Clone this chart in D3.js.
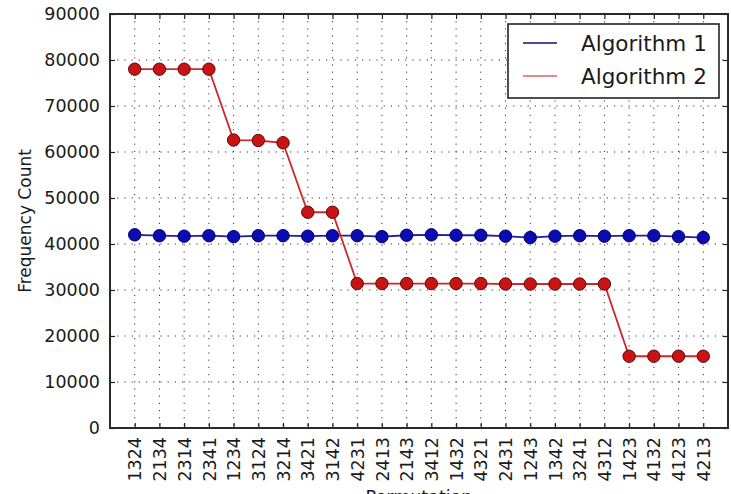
<!DOCTYPE html>
<html>
<head>
<meta charset="utf-8">
<script src="https://cdn.jsdelivr.net/npm/d3@7"></script>
<style>
  html, body { margin: 0; padding: 0; background: #fff; }
  svg { display: block; }
  text { font-family: "DejaVu Sans", sans-serif; fill: #1a1a1a; }
</style>
</head>
<body>
<svg id="chart" width="731" height="494"></svg>
<script>
// Permutations on the x axis
const categories = ["1324","2134","2314","2341","1234","3124","3214","3421","3142","4231",
  "2413","2143","3412","1432","4321","2431","1243","1342","3241","4312",
  "1423","4132","4123","4213"];

// Frequency counts per permutation
const algorithm1 = [42000, 41800, 41700, 41800, 41600, 41800, 41800, 41700, 41800, 41800,
  41600, 41900, 42000, 41900, 41900, 41700, 41400, 41700, 41800, 41700,
  41800, 41800, 41600, 41400];
const algorithm2 = [78000, 78000, 78000, 78000, 62600, 62500, 62000, 46900, 46900, 31400,
  31400, 31400, 31400, 31400, 31400, 31300, 31300, 31300, 31300, 31300,
  15600, 15600, 15600, 15600];

const yTicks = [0, 10000, 20000, 30000, 40000, 50000, 60000, 70000, 80000, 90000];
const seriesNames = ["Algorithm 1", "Algorithm 2"];

const svg = d3.select("#chart");
const plotLeft = 110, plotRight = 728, plotTop = 14, plotBottom = 428;

const x = d3.scalePoint().domain(categories).range([plotLeft, plotRight]).padding(1);
const y = d3.scaleLinear().domain([0, 90000]).range([plotBottom, plotTop]);

// dotted grid
const grid = svg.append("g").attr("stroke", "#333").attr("stroke-width", 1)
  .attr("stroke-dasharray", "1.2,6");
grid.selectAll("line.v").data(categories).join("line")
  .attr("x1", d => x(d)).attr("x2", d => x(d))
  .attr("y1", plotTop).attr("y2", plotBottom);
grid.selectAll("line.h").data(yTicks.slice(1, -1)).join("line")
  .attr("x1", plotLeft).attr("x2", plotRight)
  .attr("y1", d => y(d)).attr("y2", d => y(d));

// axes with inward ticks on all sides
const axisStyle = g => {
  g.select(".domain").remove();
  g.selectAll(".tick line").attr("stroke", "#222").attr("stroke-width", 1.2);
  g.selectAll("text").attr("font-size", 17.5).style("fill", "#1a1a1a");
};
svg.append("g").attr("transform", `translate(${plotLeft},0)`)
  .call(d3.axisLeft(y).tickValues(yTicks).tickSize(-5).tickPadding(10).tickFormat(d3.format("d")))
  .call(axisStyle);
svg.append("g").attr("transform", `translate(${plotRight},0)`)
  .call(d3.axisRight(y).tickValues(yTicks).tickSize(-5).tickFormat(""))
  .call(axisStyle);
svg.append("g").attr("transform", `translate(0,${plotTop})`)
  .call(d3.axisTop(x).tickSize(-5).tickFormat(""))
  .call(axisStyle);
const xAxis = svg.append("g").attr("transform", `translate(0,${plotBottom})`)
  .call(d3.axisBottom(x).tickSize(-5).tickPadding(9))
  .call(axisStyle);
xAxis.selectAll("text")
  .attr("transform", "rotate(-90)")
  .attr("text-anchor", "end")
  .attr("dy", "0.35em")
  .attr("x", -9).attr("y", 0);

// frame
svg.append("rect").attr("x", plotLeft).attr("y", plotTop)
  .attr("width", plotRight - plotLeft).attr("height", plotBottom - plotTop)
  .attr("fill", "none").attr("stroke", "#2a2a2a").attr("stroke-width", 2);

// series
const series = [
  { name: seriesNames[0], values: algorithm1, line: "#1c1ca8", fill: "#0c0cb4", edge: "#000060" },
  { name: seriesNames[1], values: algorithm2, line: "#d02828", fill: "#c81414", edge: "#600808" }
];
const line = d3.line().x((d, i) => x(categories[i])).y(d => y(d));
series.forEach(s => {
  svg.append("path").datum(s.values).attr("d", line)
    .attr("fill", "none").attr("stroke", s.line).attr("stroke-width", 1.8);
  svg.append("g").selectAll("circle").data(s.values).join("circle")
    .attr("cx", (d, i) => x(categories[i])).attr("cy", d => y(d)).attr("r", 6.2)
    .attr("fill", s.fill).attr("stroke", s.edge).attr("stroke-width", 1);
});

// legend
const legend = svg.append("g");
legend.append("rect").attr("x", 508).attr("y", 24).attr("width", 211).attr("height", 74)
  .attr("fill", "#fff").attr("stroke", "#222").attr("stroke-width", 1.6);
const legendColors = ["#101070", "#e06060"];
seriesNames.forEach((name, i) => {
  const ly = 43 + i * 33;
  legend.append("line").attr("x1", 523).attr("x2", 557).attr("y1", ly).attr("y2", ly)
    .attr("stroke", legendColors[i]).attr("stroke-width", 1.6);
  legend.append("text").attr("x", 581).attr("y", ly).attr("dy", "0.36em")
    .attr("font-size", 21.5).text(name);
});

// axis titles
svg.append("text").attr("transform", `translate(25,${(plotTop + plotBottom) / 2}) rotate(-90)`)
  .attr("text-anchor", "middle").attr("dy", "0.35em").attr("font-size", 17)
  .text("Frequency Count");
svg.append("text").attr("x", (plotLeft + plotRight) / 2).attr("y", 503)
  .attr("text-anchor", "middle").attr("font-size", 17.5).text("Permutation");
</script>
</body>
</html>
